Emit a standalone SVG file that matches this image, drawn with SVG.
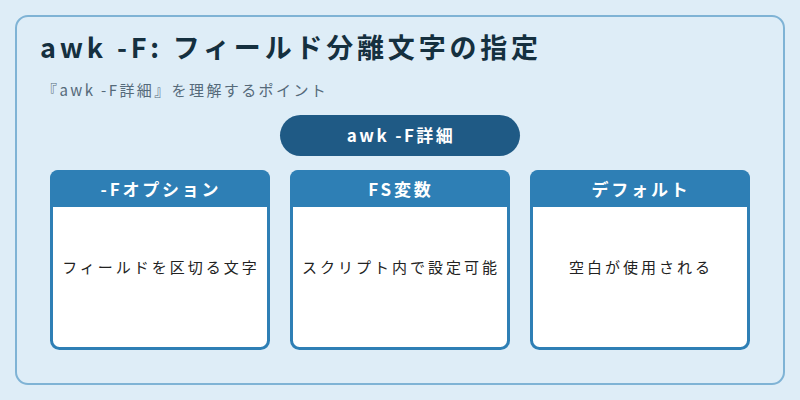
<svg xmlns="http://www.w3.org/2000/svg" width="800" height="400" viewBox="0 0 800 400">
<style>
text{font-family:"Noto Sans CJK JP","Noto Sans",sans-serif}
.h{fill:#fff;font-size:17px;font-weight:bold;text-anchor:middle;letter-spacing:2.8px}
.b{fill:#222;font-size:15px;text-anchor:middle;letter-spacing:3px}
.card{fill:#fff;stroke:#2e7fb5;stroke-width:3}
.hd{fill:#2e7fb5}
</style>
<rect x="0" y="0" width="800" height="400" fill="#deedf7"/>
<rect x="16" y="16" width="768" height="368" rx="12" fill="#deedf7" stroke="#7fb3d5" stroke-width="2"/>
<text x="40" y="58" font-size="27" font-weight="bold" fill="#15303f" letter-spacing="3.8">awk -F: フィールド分離文字の指定</text>
<text x="42" y="96" font-size="15" fill="#556a7a" letter-spacing="2.4">『awk -F詳細』を理解するポイント</text>
<g id="root"><rect x="280" y="115" width="240" height="41" rx="20.5" fill="#1f5a85"/><text class="h" x="401" y="142" style="letter-spacing:2.4px">awk -F詳細</text></g>
<g id="card1"><rect class="card" x="51.5" y="171.5" width="217" height="177" rx="8"/><path class="hd" d="M50 207V178a8 8 0 0 1 8-8h204a8 8 0 0 1 8 8v29z"/><text class="h" x="161" y="196">-Fオプション</text><text class="b" x="161" y="273">フィールドを区切る文字</text></g>
<g id="card2"><rect class="card" x="291.5" y="171.5" width="217" height="177" rx="8"/><path class="hd" d="M290 207V178a8 8 0 0 1 8-8h204a8 8 0 0 1 8 8v29z"/><text class="h" x="401" y="196">FS変数</text><text class="b" x="401" y="273">スクリプト内で設定可能</text></g>
<g id="card3"><rect class="card" x="531.5" y="171.5" width="217" height="177" rx="8"/><path class="hd" d="M530 207V178a8 8 0 0 1 8-8h204a8 8 0 0 1 8 8v29z"/><text class="h" x="641" y="196">デフォルト</text><text class="b" x="641" y="273">空白が使用される</text></g>
<g id="connectors"/>
</svg>
